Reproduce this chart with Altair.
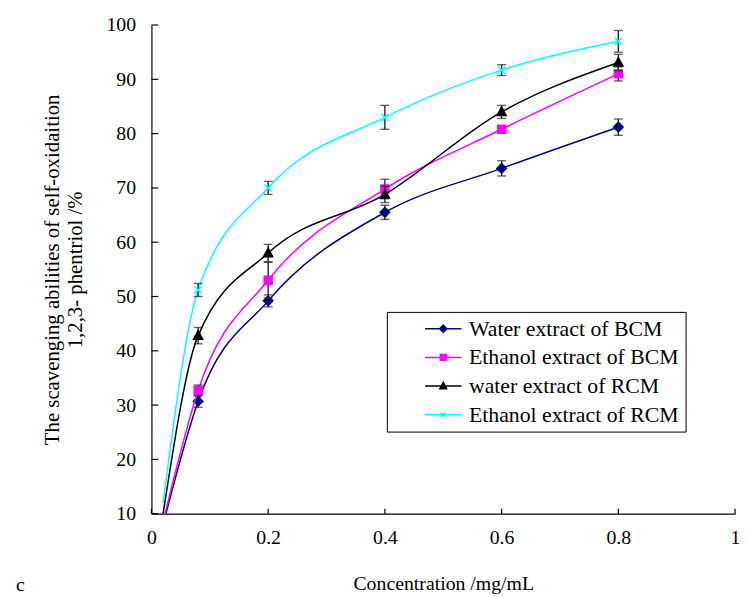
import altair as alt
import pandas as pd

# ---- data ----
series_names = ["Water extract of BCM", "Ethanol extract of BCM",
                "water extract of RCM", "Ethanol extract of RCM"]
series_colors = ["#000080", "#FF00FF", "#000000", "#00FFFF"]

concentration = [0.02, 0.08, 0.2, 0.4, 0.6, 0.8]
water_bcm = [8.0, 30.7, 49.2, 65.5, 73.6, 81.2]
ethanol_bcm = [8.5, 32.7, 53.0, 69.8, 80.8, 91.0]
water_rcm = [10.0, 42.8, 58.0, 68.8, 84.0, 93.1]
ethanol_rcm = [12.0, 51.2, 70.0, 83.0, 91.7, 97.0]

# error (+/-) for the marked points (first point has no marker)
water_bcm_err = [0, 1.1, 1.1, 1.3, 1.4, 1.5]
ethanol_bcm_err = [0, 1.0, 3.3, 1.8, 0.5, 1.3]
water_rcm_err = [0, 1.5, 1.6, 1.5, 1.2, 1.5]
ethanol_rcm_err = [0, 1.2, 1.2, 2.2, 1.0, 2.0]

x_ticks = [0, 0.2, 0.4, 0.6, 0.8, 1.0]
y_ticks = [10, 20, 30, 40, 50, 60, 70, 80, 90, 100]

values = [water_bcm, ethanol_bcm, water_rcm, ethanol_rcm]
errors = [water_bcm_err, ethanol_bcm_err, water_rcm_err, ethanol_rcm_err]

marker_paths = [
    "M0,-1.2L1.2,0L0,1.2L-1.2,0Z",
    "M-1,-1H1V1H-1Z",
    "M0,-1.25L1.15,0.9L-1.15,0.9Z",
    "M-0.9,-0.9L0.9,0.9M-0.9,0.9L0.9,-0.9",
]
legend_paths = [
    "M-4.6,0H4.6M0,-0.9L0.9,0L0,0.9L-0.9,0Z",
    "M-4.6,0H4.6M-0.75,-0.75H0.75V0.75H-0.75Z",
    "M-4.6,0H4.6M0,-0.95L0.85,0.7L-0.85,0.7Z",
    "M-4.6,0H4.6M-0.6,-0.6L0.6,0.6M-0.6,0.6L0.6,-0.6",
]

FONT = "Liberation Serif"
W, H = 590, 494

xscale = alt.Scale(domain=[0, 1], nice=False)
yscale = alt.Scale(domain=[10, 100], nice=False)

x_axis = alt.Axis(values=x_ticks, ticks=False, grid=False, labelPadding=14,
                  labelFontSize=20, labelFont=FONT, labelColor="black",
                  labelExpr="datum.value == 0 ? '0' : datum.value == 1 ? '1' : format(datum.value, '.1f')",
                  labelFlush=False, labelOverlap=False,
                  title="Concentration /mg/mL", titleFont=FONT, titleFontSize=20,
                  titleFontWeight="normal", titleColor="black", titlePadding=27,
                  domainColor="black", domainWidth=1.2)
y_axis = alt.Axis(values=y_ticks, ticks=False, grid=False, labelPadding=16,
                  labelFontSize=20, labelFont=FONT, labelColor="black",
                  labelFlush=False, labelOverlap=False,
                  title=["The scavenging abilities of self-oxidaition", "1,2,3- phentriol  /%"],
                  titleFont=FONT, titleFontSize=21, titleFontWeight="normal",
                  titleColor="black", titlePadding=21, titleLineHeight=23,
                  domainColor="black", domainWidth=1.2)


def X(field):
    return alt.X(field, scale=xscale, axis=x_axis)


def Y(field):
    return alt.Y(field, scale=yscale, axis=y_axis)


layers = []

# inward tick marks
layers.append(
    alt.Chart(pd.DataFrame({"v": y_ticks})).mark_rule(color="black", strokeWidth=1.2).encode(
        y=Y("v:Q"), x=alt.value(0), x2=alt.value(7))
)
layers.append(
    alt.Chart(pd.DataFrame({"v": x_ticks})).mark_rule(color="black", strokeWidth=1.2).encode(
        x=X("v:Q"), y=alt.value(H), y2=alt.value(H - 5))
)

for name, color, vals, errs, path in zip(series_names, series_colors, values, errors, marker_paths):
    df = pd.DataFrame({"x": concentration, "y": vals, "e": errs})
    df["lo"] = df["y"] - df["e"]
    df["hi"] = df["y"] + df["e"]
    marked = df.iloc[1:]
    layers.append(
        alt.Chart(df).mark_line(interpolate="monotone", strokeWidth=1.5, clip=True, color=color).encode(
            x=X("x:Q"), y=Y("y:Q"))
    )
    layers.append(
        alt.Chart(marked).mark_rule(color="#222222", strokeWidth=1.4).encode(
            x=X("x:Q"), y=Y("lo:Q"), y2="hi:Q")
    )
    for col in ["lo", "hi"]:
        layers.append(
            alt.Chart(marked).mark_tick(orient="horizontal", size=9, thickness=1.4, color="#222222").encode(
                x=X("x:Q"), y=Y(col + ":Q"))
        )
    layers.append(
        alt.Chart(marked).mark_point(shape=path, size=64, filled=True, fill=color, stroke=color,
                                     strokeWidth=1.5, opacity=1).encode(
            x=X("x:Q"), y=Y("y:Q"))
    )

leg = alt.Legend(orient="none", legendX=238, legendY=290, title=None,
                 labelFont=FONT, labelFontSize=22, labelColor="black",
                 symbolSize=64, symbolStrokeWidth=1.5, strokeColor="black",
                 fillColor="white", padding=6, rowPadding=7,
                 symbolOffset=40, labelOffset=15, labelLimit=400)
legend_layer = alt.Chart(pd.DataFrame({"series": series_names})).mark_point(
    filled=True, size=64, strokeWidth=1.5, opacity=1, clip=True).encode(
    x=alt.value(-1000), y=alt.value(-1000),
    shape=alt.Shape("series:N", scale=alt.Scale(domain=series_names, range=legend_paths), legend=leg),
    fill=alt.Fill("series:N", scale=alt.Scale(domain=series_names, range=series_colors), legend=leg),
    stroke=alt.Stroke("series:N", scale=alt.Scale(domain=series_names, range=series_colors), legend=leg),
)
layers.append(legend_layer)

chart = alt.layer(*layers).properties(
    width=W, height=H,
    autosize=alt.AutoSizeParams(type="none"),
    padding={"left": 145, "top": 14, "right": 5, "bottom": 82},
    title=alt.TitleParams("c", orient="bottom", anchor="start", frame="group",
                          font=FONT, fontSize=20, fontWeight="normal", color="black",
                          dx=-137, offset=-19),
).configure_view(stroke=None)

chart.save("out.html", embed_options={"renderer": "svg", "actions": False})
